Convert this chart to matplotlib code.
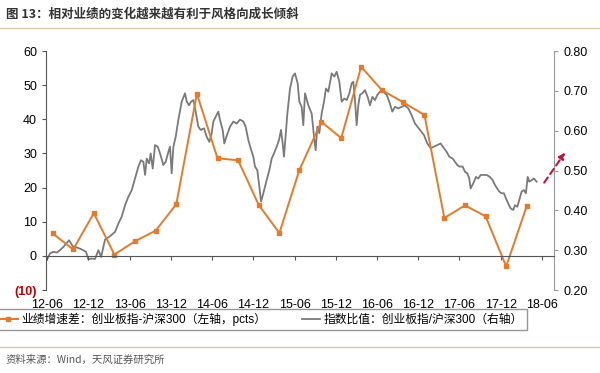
import matplotlib
matplotlib.use("Agg")
import matplotlib.pyplot as plt
import numpy as np

plt.rcParams['font.family'] = ['Liberation Sans', 'Noto Sans CJK SC', 'DejaVu Sans']

# x is months since 2012-06
tick_labels = ["12-06", "12-12", "13-06", "13-12", "14-06", "14-12", "15-06",
               "15-12", "16-06", "16-12", "17-06", "17-12", "18-06"]

# quarterly earnings growth gap (left axis, pcts), 2012Q2 .. 2018Q1
growth_x = [0.8, 3.8, 6.8, 9.8, 12.8, 15.8, 18.8, 21.8, 24.8, 27.8, 30.8, 33.8,
            36.7, 39.9, 42.8, 45.7, 48.7, 51.8, 54.9, 57.8, 60.8, 63.8, 66.8, 69.8]
growth_gap = [6.6, 1.9, 12.5, 0.4, 4.3, 7.4, 15.1, 47.5, 28.6, 28.0, 14.9, 6.7,
              25.1, 39.3, 34.5, 55.4, 48.6, 45.0, 41.3, 11.1, 14.8, 11.6, -3.1, 14.7]

# ChiNext / CSI300 ratio (right axis)
ratio_x = [0.0, 0.44, 0.92, 1.41, 1.89, 2.47, 3.20, 3.73, 4.32, 5.04, 5.67, 6.01,
           6.50, 6.98, 7.47, 7.86, 8.44, 9.16, 9.89, 10.38, 10.86, 11.35, 11.83,
           12.32, 12.80, 13.29, 13.67, 14.01, 14.26, 14.50, 14.84, 15.08, 15.37,
           15.71, 16.10, 16.44, 16.92, 17.26, 17.65, 17.89, 18.13, 18.38, 18.72,
           19.10, 19.59, 20.07, 20.32, 20.66, 20.95, 21.29, 21.62, 22.01, 22.35,
           22.84, 23.22, 23.61, 23.95, 24.19, 24.58, 24.92, 25.16, 25.55, 25.79,
           26.13, 26.62, 27.10, 27.59, 28.07, 28.56, 28.90, 29.28, 29.62, 30.01,
           30.25, 30.59, 30.89, 31.13, 31.47, 31.95, 32.34, 32.68, 33.02, 33.41,
           33.75, 34.04, 34.28, 34.47, 34.72, 34.96, 35.35, 35.73, 36.07, 36.46,
           36.70, 36.80, 37.04, 37.28, 37.53, 38.01, 38.50, 38.84, 39.08, 39.32,
           39.61, 39.95, 40.29, 40.58, 40.92, 41.41, 41.79, 42.13, 42.52, 42.86,
           43.25, 43.59, 43.98, 44.32, 44.56, 44.80, 45.04, 45.28, 45.53, 45.87,
           46.25, 46.64, 46.98, 47.32, 47.71, 48.05, 48.44, 48.92, 49.41, 49.79,
           50.23, 50.62, 51.10, 51.59, 52.07, 52.56, 53.04, 53.53, 54.25, 54.84,
           55.32, 55.81, 56.29, 56.78, 57.26, 57.75, 58.13, 58.52, 59.01, 59.35,
           59.68, 59.98, 60.46, 60.80, 61.14, 61.43, 61.62, 62.01, 62.40, 62.74,
           63.08, 63.47, 63.95, 64.44, 64.82, 65.16, 65.50, 65.79, 66.13, 66.47,
           66.76, 67.10, 67.44, 67.83, 68.07, 68.41, 68.70, 69.04, 69.38, 69.67,
           69.92, 70.16, 70.50, 70.84, 71.22]
ratio = [0.277, 0.292, 0.296, 0.294, 0.300, 0.310, 0.325, 0.310, 0.307, 0.302,
         0.296, 0.277, 0.279, 0.278, 0.300, 0.283, 0.327, 0.335, 0.346, 0.367,
         0.384, 0.413, 0.434, 0.451, 0.480, 0.510, 0.526, 0.522, 0.489, 0.530,
         0.518, 0.543, 0.505, 0.564, 0.560, 0.543, 0.514, 0.522, 0.547, 0.560,
         0.493, 0.560, 0.585, 0.627, 0.673, 0.694, 0.673, 0.664, 0.673, 0.677,
         0.648, 0.610, 0.602, 0.606, 0.585, 0.572, 0.593, 0.623, 0.637, 0.648,
         0.627, 0.602, 0.568, 0.587, 0.610, 0.623, 0.618, 0.628, 0.623, 0.610,
         0.577, 0.556, 0.535, 0.510, 0.501, 0.459, 0.422, 0.443, 0.476, 0.501,
         0.530, 0.543, 0.560, 0.577, 0.602, 0.568, 0.535, 0.590, 0.643, 0.706,
         0.736, 0.744, 0.719, 0.673, 0.669, 0.660, 0.614, 0.694, 0.664, 0.643,
         0.585, 0.551, 0.610, 0.594, 0.643, 0.673, 0.706, 0.698, 0.744, 0.736,
         0.748, 0.723, 0.673, 0.681, 0.677, 0.694, 0.719, 0.723, 0.677, 0.614,
         0.664, 0.690, 0.694, 0.702, 0.685, 0.664, 0.685, 0.677, 0.690, 0.698,
         0.698, 0.690, 0.673, 0.648, 0.660, 0.656, 0.660, 0.664, 0.656, 0.639,
         0.618, 0.602, 0.589, 0.568, 0.556, 0.560, 0.564, 0.568, 0.556, 0.547,
         0.535, 0.530, 0.522, 0.514, 0.510, 0.510, 0.497, 0.493, 0.480, 0.455,
         0.468, 0.484, 0.480, 0.489, 0.489, 0.489, 0.484, 0.476, 0.464, 0.455,
         0.447, 0.443, 0.443, 0.430, 0.417, 0.405, 0.401, 0.413, 0.409, 0.426,
         0.447, 0.451, 0.443, 0.484, 0.472, 0.476, 0.480, 0.472]

orange = "#E47B2A"
grey = "#7A7A7A"

fig = plt.figure(figsize=(6, 3.73), dpi=100)
ax = fig.add_axes([0.0767, 0.2225, 0.8466, 0.6405])
ax2 = ax.twinx()
ax.set_zorder(ax2.get_zorder() + 1)
ax.patch.set_visible(False)

ax2.plot(ratio_x, ratio, color=grey, lw=1.3)
ax.plot(growth_x, growth_gap, color=orange, lw=1.4, marker="s", ms=3.2)

ax.set_xlim(-0.15, 73.75)
ax.set_ylim(-10, 60)
ax2.set_ylim(0.2, 0.8)

ax.set_xticks(np.arange(0, 73, 6))
ax.set_xticklabels(tick_labels)
ax.set_yticks(np.arange(-10, 61, 10))
ax.set_yticklabels(["(10)"] + [str(v) for v in range(0, 61, 10)])
ax.get_yticklabels()[0].set_color("#C00000")
ax.get_yticklabels()[0].set_fontweight("bold")
ax2.set_yticks(np.arange(0.2, 0.81, 0.1))
ax2.set_yticklabels([f"{v:.2f}" for v in np.arange(0.2, 0.81, 0.1)])

for a in (ax, ax2):
    a.spines["top"].set_visible(False)
ax2.spines["bottom"].set_visible(False)
ax2.spines["left"].set_visible(False)
ax.spines["right"].set_visible(False)
ax.spines["left"].set_color("#555555")
ax2.spines["right"].set_color("#999999")
ax.spines["bottom"].set_position(("data", 0))
ax.spines["bottom"].set_color("#555555")

ax.tick_params(axis="x", direction="out", length=3, pad=28, labelsize=9, color="#555555")
ax.tick_params(axis="y", direction="out", length=3, labelsize=9, color="#555555")
ax2.tick_params(axis="y", direction="out", length=3, labelsize=9, color="#999999")

# dashed arrow past the last ratio point
ax2.annotate("", xy=(75.6, 0.551), xytext=(72.1, 0.464), xycoords="data",
             annotation_clip=False,
             arrowprops=dict(arrowstyle="-|>", color="#C0143C", lw=1.5,
                             linestyle=(0, (3, 2)), mutation_scale=9))

# legend
h1, = ax.plot([], [], color=orange, lw=1.4, marker="s", ms=3)
h2, = ax.plot([], [], color=grey, lw=1.3)
leg = fig.legend([h1, h2],
                 ["业绩增速差：创业板指-沪深300（左轴，pcts）",
                  "指数比值：创业板指/沪深300（右轴）"],
                 loc="center", bbox_to_anchor=(0.435, 0.143), ncol=2,
                 frameon=True, fancybox=False, edgecolor="#7F7F7F",
                 fontsize=8.5, handlelength=1.6, handletextpad=0.3,
                 columnspacing=3.0, borderpad=0.35)
leg.get_frame().set_linewidth(1.0)

fig.text(0.01, 0.962, "图 13：相对业绩的变化越来越有利于风格向成长倾斜",
         fontsize=9, fontweight="bold", color="#333333", va="center",
         family=["Noto Sans CJK SC", "DejaVu Sans"])
fig.add_artist(plt.Line2D([0, 1], [0.925, 0.925], color="#D9C8A8", lw=1.0))
fig.add_artist(plt.Line2D([0, 1], [0.071, 0.071], color="#D9C8A8", lw=1.0))
fig.text(0.01, 0.035, "资料来源：Wind，天风证券研究所", fontsize=7.5,
         color="#555555", va="center", family=["Noto Sans CJK SC", "DejaVu Sans"])

fig.savefig("out.png", dpi=100)
